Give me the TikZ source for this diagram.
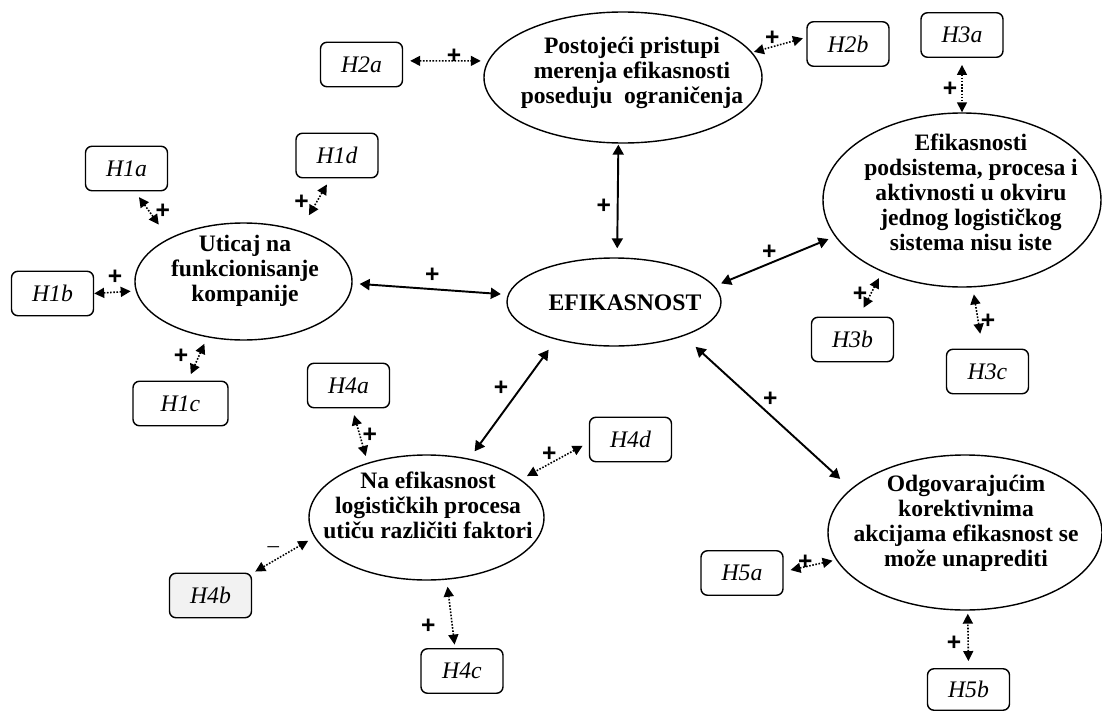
\documentclass[tikz,border=0pt]{standalone}
\usepackage{fontspec}
\setmainfont{Liberation Serif}
\setsansfont{Liberation Sans}
\usetikzlibrary{arrows.meta,shapes.geometric}

\begin{document}
\begin{tikzpicture}[x=0.2mm,y=-0.2mm,
    bubble/.style={ellipse,draw,line width=0.8pt,inner sep=0pt},
    btext/.style={align=center,font=\fontsize{13.4}{14.2}\selectfont\bfseries},
    hyp/.style={draw,rounded corners=1.3mm,line width=0.8pt,minimum width=16.4mm,
        minimum height=8.9mm,inner sep=0pt,font=\fontsize{13.5}{15}\selectfont\itshape},
    link/.style={{Triangle[length=2mm,width=2.2mm]}-{Triangle[length=2mm,width=2.2mm]},
        line width=1.1pt,shorten <=1.4mm,shorten >=1.4mm},
    dotlink/.style={{Triangle[length=2mm,width=2mm]}-{Triangle[length=2mm,width=2mm]},
        line width=0.9pt,dash pattern=on 0.9pt off 0.9pt,shorten <=1.4mm,shorten >=1.4mm},
    sign/.style={font=\fontsize{14}{14}\selectfont\sffamily\bfseries,inner sep=0pt}]
    \useasboundingbox (0,0) rectangle (1102,711);

    % the five claims and the core
    \node[bubble,minimum width=43.4mm,minimum height=23.4mm] (uticaj)    at (243.5,281.5) {};
    \node[bubble,minimum width=55.6mm,minimum height=26.2mm] (pristupi)  at (623,77.5) {};
    \node[bubble,minimum width=42.8mm,minimum height=17.6mm] (efik)      at (614,302) {};
    \node[bubble,minimum width=55.6mm,minimum height=34.8mm] (podsistem) at (962,200) {};
    \node[bubble,minimum width=47mm,minimum height=25mm]     (faktori)   at (426.5,517.5) {};
    \node[bubble,minimum width=54.8mm,minimum height=31mm]   (akcije)    at (965,532.5) {};

    \node[btext] (uticaj-t)    at (245,271) {Uticaj na\\funkcionisanje\\kompanije};
    \node[btext] (pristupi-t)  at (632,73) {Postojeći pristupi\\merenja efikasnosti\\poseduju~ ograničenja};
    \node[btext,font=\fontsize{13.5}{15}\selectfont\bfseries] (efik-t) at (625,303) {EFIKASNOST};
    \node[btext] (podsistem-t) at (971,192) {Efikasnosti\\podsistema, procesa i\\aktivnosti u okviru\\jednog logističkog\\sistema nisu iste};
    \node[btext] (faktori-t)   at (428,505) {Na efikasnost\\logističkih procesa\\utiču različiti faktori};
    \node[btext] (akcije-t)    at (966,523) {Odgovarajućim\\korektivnima\\akcijama efikasnost se\\može unaprediti};

    % hypotheses
    \node[hyp] (h1a) at (126.5,168.5) {H1a};
    \node[hyp] (h1b) at (52.5,293.5) {H1b};
    \node[hyp,minimum width=19mm] (h1c) at (180.5,403.5) {H1c};
    \node[hyp] (h1d) at (337,155.5) {H1d};
    \node[hyp] (h2a) at (361.5,64.5) {H2a};
    \node[hyp] (h2b) at (848,44) {H2b};
    \node[hyp] (h3a) at (962,35) {H3a};
    \node[hyp] (h3b) at (852.5,339.5) {H3b};
    \node[hyp] (h3c) at (987.5,371.5) {H3c};
    \node[hyp] (h4a) at (348.5,385.5) {H4a};
    \node[hyp,fill=black!5] (h4b) at (210.5,595.5) {H4b};
    \node[hyp] (h4c) at (462,671) {H4c};
    \node[hyp] (h4d) at (630.5,439.5) {H4d};
    \node[hyp] (h5a) at (742,573) {H5a};
    \node[hyp,minimum height=8.3mm] (h5b) at (968.5,689.5) {H5b};

    \path[link]
    (uticaj.-1)    edge node[sign,shift={(2,-13.5)}] {+} (efik.176)
    (pristupi.-94) edge[shorten <=0.2mm,shorten >=1.8mm] node[sign,shift={(-14,5.5)}] {+} (efik.86)
    (efik.9)       edge node[sign,shift={(-5.5,-8.5)}] {+} (podsistem.-164)
    (efik.-147)    edge[shorten <=2.5mm,shorten >=1.8mm] node[sign,shift={(-11.5,-11)}] {+} (faktori.54)
    (efik.-26)     edge[shorten <=3.2mm,shorten >=2.9mm] node[sign,shift={(3,-13)}] {+} (akcije.159);

    \path[dotlink]
    (h1a.-70)    edge[shorten >=3.4mm] node[sign,shift={(11,-4)}] {+} (uticaj.150)
    (h1d.-106)   edge[shorten >=3.6mm] node[sign,shift={(-13.5,-2)}] {+} (uticaj.42)
    (h1b.east)   edge[shorten <=0mm,shorten >=1mm] node[sign,shift={(0,-15)}] {+} (uticaj.185)
    (h1c.72)     edge node[sign,shift={(-16.5,-3)}] {+} (uticaj.-123)
    (h2a.5)      edge node[sign,shift={(8.5,-5)}] {+} (pristupi.173)
    (h2b.171)    edge[shorten <=0.7mm,shorten >=0.35mm] node[sign,shift={(-7,-6.5)}] {+} (pristupi.11)
    (h3a.south)  edge[shorten >=0mm] node[sign,shift={(-12,4)}] {+} (podsistem.north)
    (h3b.74)     edge[shorten <=2mm] node[sign,shift={(-10.5,0)}] {+} (podsistem.-138)
    (h3c.102)    edge[shorten <=3mm] node[sign,shift={(10.5,3)}] {+} (podsistem.-83)
    (h4a.-81)    edge node[sign,shift={(10,0)}] {+} (faktori.137)
    (h4b.28)     edge[shorten <=0.7mm] node[sign,font=\fontsize{13}{13}\selectfont,shift={(-10,-6)}] {--} (faktori.-170)
    (h4c.107)    edge[shorten <=0.7mm] node[sign,shift={(-22.5,12)}] {+} (faktori.-72)
    (h4d.184)    edge node[sign,shift={(-5.5,-7)}] {+} (faktori.22)
    (h5a.2)      edge[shorten >=0.7mm] node[sign,shift={(-4.5,-3.5)}] {+} (akcije.192)
    (h5b.north)  edge[shorten >=0.6mm] node[sign,shift={(-14,4)}] {+} (akcije.-88);
\end{tikzpicture}
\end{document}
